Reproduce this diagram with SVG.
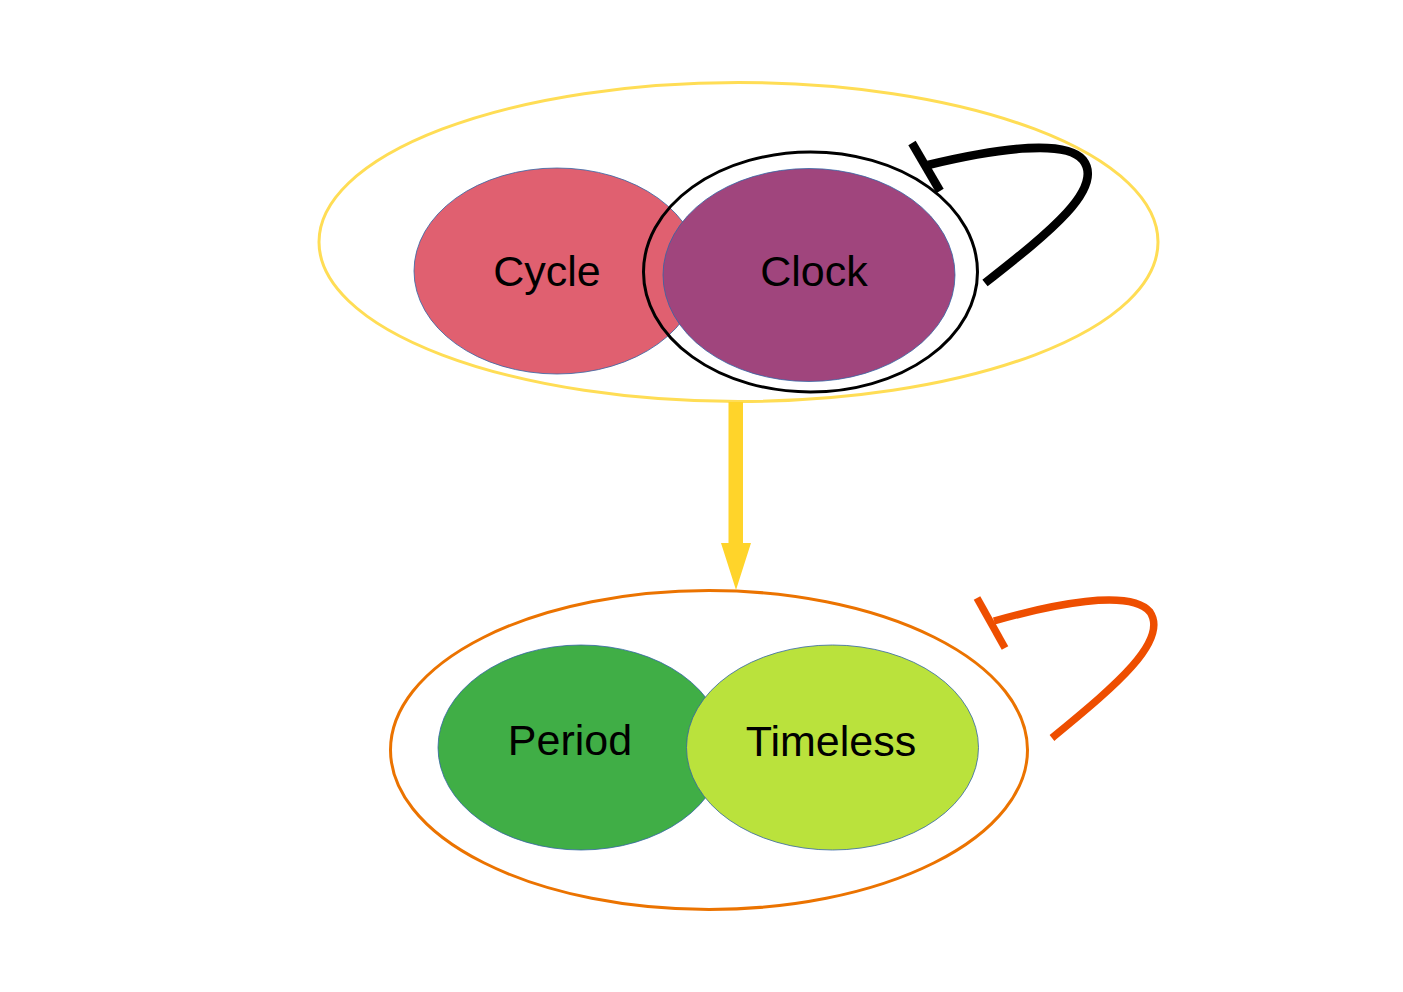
<svg xmlns="http://www.w3.org/2000/svg" width="1403" height="992" viewBox="0 0 1403 992">
<style>
.lbl{font-family:"Liberation Sans",Arial,sans-serif;font-size:43px;fill:#000;text-anchor:middle}
.node{stroke:#3465a4;stroke-width:0.8}
</style>
<rect width="1403" height="992" fill="#fff"/>
<g id="group-top">
<ellipse cx="738.5" cy="242" rx="419.5" ry="159.5" fill="none" stroke="#ffdd55" stroke-width="3"/>
</g>
<g id="node-cycle">
<ellipse class="node" cx="557" cy="271" rx="143" ry="103" fill="#e06070"/>
<text class="lbl" x="547" y="286">Cycle</text>
</g>
<g id="node-clock">
<ellipse class="node" cx="809" cy="275" rx="146" ry="106.5" fill="#a0457d"/>
<text class="lbl" x="814" y="286">Clock</text>
<ellipse cx="810.5" cy="272" rx="167" ry="120" fill="none" stroke="#000" stroke-width="3"/>
</g>
<g id="group-bottom">
<ellipse cx="709" cy="750" rx="318.5" ry="159.5" fill="none" stroke="#eb7300" stroke-width="3"/>
</g>
<g id="node-period">
<ellipse class="node" cx="581" cy="747.5" rx="143" ry="102.5" fill="#40ae46"/>
<text class="lbl" x="570" y="755">Period</text>
</g>
<g id="node-timeless">
<ellipse class="node" cx="832.5" cy="747.5" rx="146" ry="102.5" fill="#bae23c"/>
<text class="lbl" x="831" y="756">Timeless</text>
</g>
<g id="connectors">
<path d="M728.5 402 L743 402 L743 543 L751 543 L736 590 L721 543 L728.5 543 Z" fill="#ffd42a"/>
<path d="M985 283 C1050 232 1105 188 1083 160 C1065 138 990 150 928 165" fill="none" stroke="#000" stroke-width="8.5"/>
<line x1="912" y1="143" x2="940" y2="191" stroke="#000" stroke-width="8.5"/>
<path d="M1052 738 C1110 690 1170 642 1150 612 C1130 588 1050 605 994 621" fill="none" stroke="#ee4e00" stroke-width="7.5"/>
<line x1="977" y1="598" x2="1005" y2="648" stroke="#ee4e00" stroke-width="7.5"/>
</g>
</svg>
